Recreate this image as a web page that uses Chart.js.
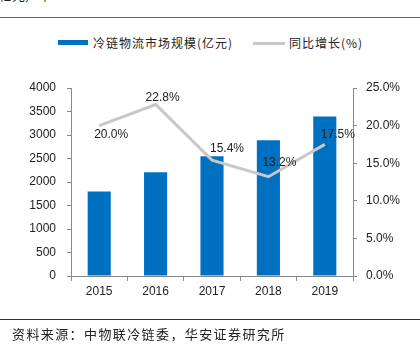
<!DOCTYPE html>
<html>
<head>
<meta charset="utf-8">
<script src="https://cdn.jsdelivr.net/npm/chart.js@4/dist/chart.umd.min.js"></script>
<style>
  body { margin: 0; background: #fff; }
  #wrap { position: relative; width: 420px; height: 350px; overflow: hidden; font-family: "Liberation Sans", Arial, sans-serif; }
  #chart { position: absolute; left: 0; top: 0; }
  .cjk { font-family: "Noto Sans CJK SC", sans-serif; color: #222; position: absolute; white-space: nowrap; }
  .rule { position: absolute; left: 0; width: 420px; }
  .key { position: absolute; }
</style>
</head>
<body>
<div id="wrap">
  <div class="cjk" style="right:372px; top:-15px; font-size:13px;">模(亿元, %)</div>
  <div class="rule" style="top:17px; height:1px; background:#666;"></div>

  <div class="key" style="left:58px; top:40px; width:30px; height:5px; background:#0070c0;"></div>
  <div class="cjk" style="left:93px; top:34px; font-size:12px; letter-spacing:1px;">冷链物流市场规模(亿元)</div>
  <div class="key" style="left:253px; top:42px; width:32px; height:3px; background:#c8c8c8;"></div>
  <div class="cjk" style="left:289px; top:34px; font-size:12px; letter-spacing:1px;">同比增长(%)</div>

  <canvas id="chart" width="420" height="350"></canvas>

  <div class="rule" style="top:319px; height:1px; background:#333;"></div>
  <div class="cjk" style="left:12px; top:324px; font-size:13px; letter-spacing:1.4px;">资料来源：中物联冷链委，华安证券研究所</div>
</div>

<script>
const years = ["2015", "2016", "2017", "2018", "2019"];
const marketSize = [1800, 2210, 2550, 2886, 3391];
const yoyGrowth = [20.0, 22.8, 15.4, 13.2, 17.5];

const axisGray = "#898989";
const textColor = "#222";

// label offsets from each line point (px), like the Excel layout
const labelShift = [[12, 9], [7, -7], [15, -12], [11, -14], [13, -10]];

const lineLabels = {
  id: "lineLabels",
  afterDatasetsDraw(chart) {
    const ctx = chart.ctx;
    const meta = chart.getDatasetMeta(1);
    ctx.save();
    ctx.font = "12px 'Liberation Sans', Arial, sans-serif";
    ctx.fillStyle = textColor;
    ctx.textAlign = "center";
    ctx.textBaseline = "middle";
    meta.data.forEach((pt, i) => {
      const s = labelShift[i];
      ctx.fillText(yoyGrowth[i].toFixed(1) + "%", pt.x + s[0], pt.y + s[1]);
    });
    ctx.restore();
  }
};

Chart.defaults.font.family = "'Liberation Sans', Arial, sans-serif";
Chart.defaults.font.size = 12;
Chart.defaults.color = textColor;

new Chart(document.getElementById("chart"), {
  type: "bar",
  data: {
    labels: years,
    datasets: [
      {
        label: "冷链物流市场规模(亿元)",
        data: marketSize,
        backgroundColor: "#0070c0",
        yAxisID: "y",
        barPercentage: 0.82,
        categoryPercentage: 0.5,
        order: 2
      },
      {
        type: "line",
        label: "同比增长(%)",
        data: yoyGrowth,
        borderColor: "#c8c8c8",
        borderWidth: 3,
        pointRadius: 0,
        tension: 0,
        yAxisID: "y1",
        order: 1
      }
    ]
  },
  options: {
    responsive: false,
    animation: false,
    layout: { padding: { top: 88, bottom: 50, left: 0, right: 0 } },
    plugins: { legend: { display: false }, tooltip: { enabled: false } },
    scales: {
      x: {
        grid: { drawOnChartArea: false, color: axisGray, tickLength: 5 },
        border: { color: axisGray },
        ticks: { padding: 3 },
        afterFit(scale) { scale.height = 24; }
      },
      y: {
        position: "left",
        min: 0,
        max: 4000,
        ticks: { stepSize: 500, padding: 11, callback: v => String(v) },
        grid: { drawOnChartArea: false, color: axisGray, tickLength: 4 },
        border: { color: axisGray },
        afterFit(scale) { scale.width = 71; }
      },
      y1: {
        position: "right",
        min: 0,
        max: 25,
        ticks: { stepSize: 5, padding: 9, callback: v => v.toFixed(1) + "%" },
        grid: { drawOnChartArea: false, color: axisGray, tickLength: 4 },
        border: { color: axisGray },
        afterFit(scale) { scale.width = 67; }
      }
    }
  },
  plugins: [lineLabels]
});
</script>
</body>
</html>
